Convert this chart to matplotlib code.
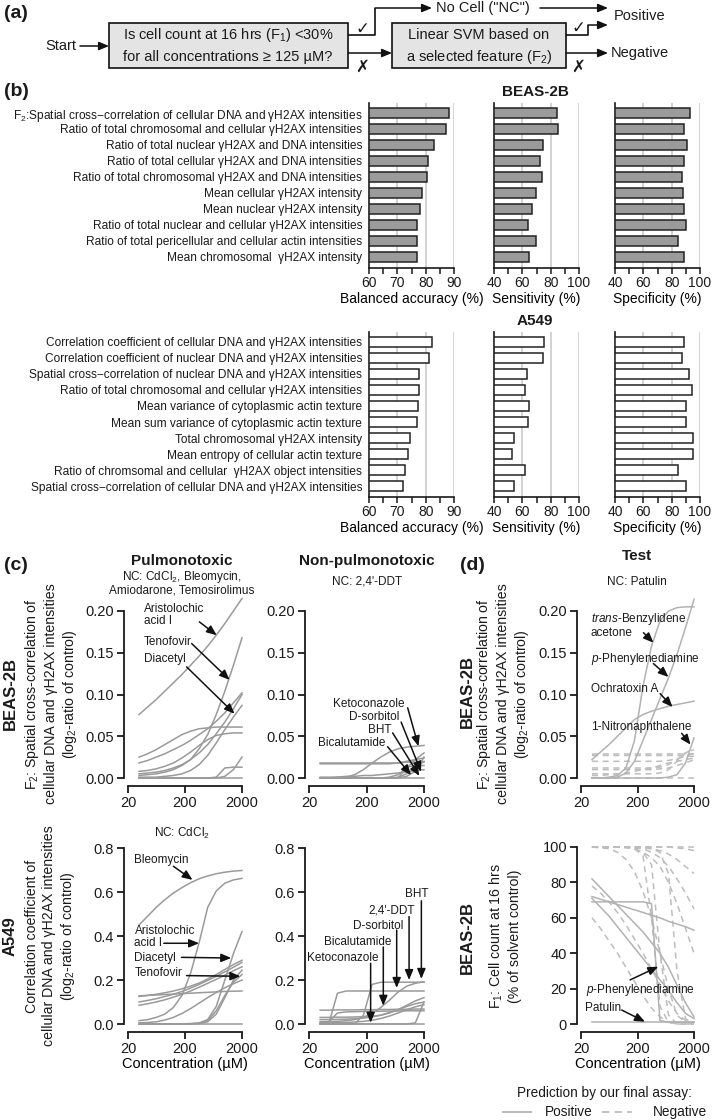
import matplotlib
matplotlib.use('Agg')
import matplotlib.pyplot as plt
from matplotlib.patches import Rectangle
from matplotlib.ticker import NullLocator
import numpy as np

plt.rcParams['font.family'] = ['Liberation Sans', 'DejaVu Sans']
plt.rcParams['mathtext.fontset'] = 'custom'
plt.rcParams['mathtext.rm'] = 'Liberation Sans'
plt.rcParams['mathtext.it'] = 'Liberation Sans:italic'
plt.rcParams['mathtext.bf'] = 'Liberation Sans:bold'
plt.rcParams['text.color'] = '#1a1a1a'
plt.rcParams['axes.edgecolor'] = '#1a1a1a'
plt.rcParams['xtick.color'] = '#1a1a1a'
plt.rcParams['ytick.color'] = '#1a1a1a'

# ---------------- data: panel (b) ----------------
beas_features = [
    'F$_2$:Spatial cross\u2212correlation of cellular DNA and \u03b3H2AX intensities',
    'Ratio of total chromosomal and cellular \u03b3H2AX intensities',
    'Ratio of total nuclear \u03b3H2AX and DNA intensities',
    'Ratio of total cellular \u03b3H2AX and DNA intensities',
    'Ratio of total chromosomal \u03b3H2AX and DNA intensities',
    'Mean cellular \u03b3H2AX intensity',
    'Mean nuclear \u03b3H2AX intensity',
    'Ratio of total nuclear and cellular \u03b3H2AX intensities',
    'Ratio of total pericellular and cellular actin intensities',
    'Mean chromosomal  \u03b3H2AX intensity',
]
beas_bal = [88.2, 87.3, 82.8, 80.7, 80.5, 78.6, 78.0, 76.9, 76.9, 76.9]
beas_sens = [84.5, 85.5, 74.7, 72.3, 73.8, 69.5, 67.0, 64.0, 69.5, 64.8]
beas_spec = [93.0, 88.9, 90.6, 88.9, 87.0, 88.0, 88.9, 90.0, 84.6, 88.9]

a549_features = [
    'Correlation coefficient of cellular DNA and \u03b3H2AX intensities',
    'Correlation coefficient of nuclear DNA and \u03b3H2AX intensities',
    'Spatial cross\u2212correlation of nuclear DNA and \u03b3H2AX intensities',
    'Ratio of total chromosomal and cellular \u03b3H2AX intensities',
    'Mean variance of cytoplasmic actin texture',
    'Mean sum variance of cytoplasmic actin texture',
    'Total chromosomal \u03b3H2AX intensity',
    'Mean entropy of cellular actin texture',
    'Ratio of chromsomal and cellular  \u03b3H2AX object intensities',
    'Spatial cross\u2212correlation of cellular DNA and \u03b3H2AX intensities',
]
a549_bal = [82.2, 81.0, 77.8, 77.8, 77.3, 76.9, 74.4, 73.6, 72.7, 72.0]
a549_sens = [75.4, 74.7, 63.2, 61.6, 64.6, 63.9, 53.8, 52.4, 61.6, 53.8]
a549_spec = [88.9, 87.5, 92.4, 94.1, 90.0, 90.0, 95.3, 95.3, 84.2, 90.0]

# ---------------- data: panels (c) and (d) ----------------
conc = [31.25, 44.2, 62.5, 88.4, 125, 177, 250, 354, 500, 707, 1000, 1414, 2000]

# BEAS-2B, pulmonotoxic, F2
beas_pulmo = [
    [0.076, 0.085, 0.094, 0.104, 0.114, 0.124, 0.135, 0.146, 0.158, 0.171, 0.185, 0.200, 0.215],  # aristolochic acid I
    [0.003, 0.004, 0.005, 0.007, 0.010, 0.015, 0.022, 0.035, 0.052, 0.076, 0.104, 0.135, 0.168],  # tenofovir
    [0.001, 0.001, 0.001, 0.002, 0.003, 0.005, 0.009, 0.016, 0.027, 0.042, 0.058, 0.073, 0.087],  # diacetyl
    [0.025, 0.029, 0.034, 0.040, 0.046, 0.052, 0.056, 0.059, 0.060, 0.061, 0.061, 0.061, 0.061],
    [0.018, 0.021, 0.025, 0.029, 0.034, 0.039, 0.045, 0.052, 0.059, 0.068, 0.078, 0.090, 0.102],
    [0.008, 0.009, 0.011, 0.014, 0.018, 0.024, 0.031, 0.039, 0.046, 0.051, 0.053, 0.054, 0.054],
    [0.005, 0.006, 0.007, 0.009, 0.012, 0.016, 0.022, 0.030, 0.040, 0.053, 0.067, 0.083, 0.100],
    [0.000, 0.000, 0.000, 0.000, 0.000, 0.000, 0.000, 0.000, 0.000, 0.001, 0.012, 0.013, 0.013],
    [0.000, 0.000, 0.000, 0.000, 0.000, 0.000, 0.000, 0.000, 0.000, 0.000, 0.002, 0.010, 0.025],
    [0.000, 0.000, 0.000, 0.000, 0.000, 0.000, 0.000, 0.000, 0.000, 0.000, 0.000, 0.000, 0.000],
]
# BEAS-2B, non-pulmonotoxic, F2
beas_nonpulmo = [
    [0.018, 0.018, 0.018, 0.018, 0.018, 0.018, 0.018, 0.018, 0.018, 0.018, 0.019, 0.019, 0.019],
    [0.017, 0.017, 0.017, 0.017, 0.017, 0.017, 0.017, 0.017, 0.017, 0.018, 0.020, 0.022, 0.024],
    [0.000, 0.000, 0.001, 0.001, 0.004, 0.010, 0.018, 0.025, 0.031, 0.035, 0.037, 0.038, 0.039],
    [0.000, 0.000, 0.000, 0.000, 0.000, 0.000, 0.000, 0.000, 0.001, 0.004, 0.012, 0.022, 0.030],
    [0.000, 0.000, 0.000, 0.000, 0.000, 0.000, 0.000, 0.000, 0.000, 0.001, 0.005, 0.012, 0.020],
    [0.000, 0.000, 0.000, 0.000, 0.000, 0.000, 0.000, 0.000, 0.000, 0.000, 0.013, 0.015, 0.015],
    [0.000, 0.000, 0.000, 0.000, 0.000, 0.000, 0.000, 0.000, 0.000, 0.000, 0.002, 0.008, 0.025],
    [0.001, 0.001, 0.001, 0.002, 0.002, 0.003, 0.003, 0.004, 0.005, 0.006, 0.007, 0.009, 0.010],
    [0.000, 0.000, 0.000, 0.000, 0.000, 0.000, 0.000, 0.000, 0.000, 0.000, 0.000, 0.000, 0.000],
]
# A549, pulmonotoxic, correlation coefficient
a549_pulmo = [
    [0.450, 0.490, 0.530, 0.565, 0.595, 0.620, 0.642, 0.660, 0.673, 0.683, 0.690, 0.695, 0.698],  # bleomycin
    [0.015, 0.020, 0.030, 0.045, 0.075, 0.130, 0.230, 0.370, 0.530, 0.605, 0.640, 0.655, 0.662],  # aristolochic acid I
    [0.000, 0.000, 0.000, 0.000, 0.000, 0.001, 0.002, 0.005, 0.020, 0.080, 0.200, 0.320, 0.420],  # diacetyl
    [0.000, 0.000, 0.000, 0.000, 0.000, 0.001, 0.001, 0.003, 0.015, 0.060, 0.130, 0.190, 0.225],  # tenofovir
    [0.000, 0.000, 0.000, 0.000, 0.000, 0.000, 0.001, 0.002, 0.010, 0.045, 0.120, 0.200, 0.245],
    [0.128, 0.130, 0.132, 0.134, 0.136, 0.138, 0.140, 0.142, 0.144, 0.146, 0.148, 0.149, 0.150],
    [0.125, 0.130, 0.135, 0.142, 0.150, 0.160, 0.172, 0.186, 0.205, 0.225, 0.248, 0.270, 0.290],
    [0.100, 0.107, 0.115, 0.125, 0.135, 0.148, 0.163, 0.180, 0.198, 0.217, 0.237, 0.258, 0.280],
    [0.085, 0.092, 0.100, 0.110, 0.122, 0.135, 0.150, 0.167, 0.185, 0.203, 0.222, 0.242, 0.260],
    [0.005, 0.007, 0.010, 0.018, 0.030, 0.048, 0.070, 0.095, 0.120, 0.143, 0.165, 0.183, 0.200],
    [0.000, 0.000, 0.000, 0.000, 0.000, 0.000, 0.000, 0.000, 0.000, 0.000, 0.000, 0.000, 0.000],
]
# A549, non-pulmonotoxic, correlation coefficient
a549_nonpulmo = [
    [0.000, 0.002, 0.140, 0.150, 0.150, 0.150, 0.150, 0.150, 0.150, 0.150, 0.150, 0.150, 0.150],
    [0.000, 0.000, 0.000, 0.000, 0.001, 0.040, 0.180, 0.190, 0.190, 0.190, 0.190, 0.190, 0.190],
    [0.010, 0.011, 0.012, 0.015, 0.020, 0.030, 0.048, 0.075, 0.108, 0.145, 0.172, 0.185, 0.192],
    [0.063, 0.063, 0.064, 0.064, 0.064, 0.065, 0.065, 0.066, 0.066, 0.067, 0.067, 0.068, 0.068],
    [0.030, 0.030, 0.031, 0.031, 0.032, 0.033, 0.035, 0.040, 0.050, 0.065, 0.085, 0.105, 0.120],
    [0.020, 0.020, 0.021, 0.022, 0.024, 0.027, 0.032, 0.040, 0.052, 0.065, 0.080, 0.092, 0.100],
    [0.005, 0.010, 0.050, 0.055, 0.056, 0.057, 0.058, 0.058, 0.059, 0.059, 0.060, 0.060, 0.060],
    [0.000, 0.000, 0.000, 0.000, 0.000, 0.000, 0.000, 0.000, 0.000, 0.000, 0.000, 0.005, 0.100],
    [0.005, 0.005, 0.006, 0.007, 0.009, 0.012, 0.017, 0.025, 0.036, 0.050, 0.065, 0.078, 0.088],
    [0.000, 0.000, 0.000, 0.000, 0.000, 0.000, 0.000, 0.000, 0.000, 0.000, 0.000, 0.000, 0.000],
]
# Test compounds, BEAS-2B, F2
test_f2_pos = [
    [0.000, 0.000, 0.001, 0.003, 0.012, 0.045, 0.110, 0.158, 0.188, 0.200, 0.204, 0.205, 0.205],  # trans-benzylidene acetone
    [0.000, 0.000, 0.000, 0.001, 0.006, 0.020, 0.045, 0.070, 0.095, 0.120, 0.148, 0.180, 0.214],  # p-phenylenediamine
    [0.022, 0.031, 0.040, 0.050, 0.060, 0.070, 0.076, 0.080, 0.083, 0.086, 0.088, 0.090, 0.092],  # ochratoxin A
    [0.000, 0.000, 0.000, 0.000, 0.000, 0.000, 0.000, 0.000, 0.000, 0.001, 0.004, 0.018, 0.048],  # 1-nitronaphthalene
]
test_f2_neg = [
    [0.029, 0.029, 0.029, 0.029, 0.029, 0.029, 0.029, 0.029, 0.029, 0.029, 0.029, 0.029, 0.029],
    [0.027, 0.027, 0.027, 0.027, 0.027, 0.027, 0.027, 0.027, 0.027, 0.027, 0.027, 0.026, 0.026],
    [0.020, 0.020, 0.020, 0.020, 0.020, 0.020, 0.020, 0.020, 0.020, 0.021, 0.023, 0.026, 0.030],
    [0.012, 0.012, 0.012, 0.012, 0.012, 0.012, 0.012, 0.012, 0.013, 0.016, 0.022, 0.030, 0.035],
    [0.010, 0.010, 0.010, 0.010, 0.010, 0.010, 0.010, 0.010, 0.011, 0.012, 0.015, 0.018, 0.022],
    [0.005, 0.005, 0.005, 0.005, 0.005, 0.005, 0.005, 0.005, 0.006, 0.010, 0.020, 0.030, 0.034],
    [0.003, 0.003, 0.004, 0.005, 0.006, 0.008, 0.010, 0.012, 0.015, 0.018, 0.020, 0.022, 0.024],
    [0.000, 0.000, 0.000, 0.000, 0.000, 0.000, 0.000, 0.000, 0.000, 0.000, 0.000, 0.000, 0.000],
]
# Test compounds, BEAS-2B, F1 (cell count)
test_f1_pos = [
    [82, 77, 72, 67, 62, 57, 52, 46, 40, 32, 22, 12, 4],
    [72, 70.5, 69, 67.5, 66, 64.5, 63, 61.5, 60, 58, 56.5, 55, 53],
    [71, 66, 61, 55, 49, 43, 37, 31, 25, 19, 12, 6, 3],
    [69, 69, 69, 69, 69, 69, 69, 68, 2, 1, 1, 1, 1],  # p-phenylenediamine
    [1, 1, 1, 1, 1, 1, 1, 1, 1, 1, 1, 1, 1],  # patulin
]
test_f1_neg = [
    [100, 100, 100, 100, 100, 100, 100, 100, 100, 100, 100, 100, 100],
    [100, 100, 100, 100, 100, 100, 100, 100, 100, 100, 99.5, 99, 98],
    [100, 100, 100, 100, 100, 100, 99.5, 99, 98, 96, 93, 89, 85],
    [100, 100, 100, 100, 100, 99.5, 99, 97, 94, 89, 82, 74, 65],
    [100, 100, 100, 100, 99.5, 99, 97, 94, 89, 80, 68, 54, 40],
    [100, 100, 100, 100, 100, 100, 100, 99, 97, 85, 30, 3, 0],
    [100, 100, 100, 100, 100, 99, 97, 90, 40, 5, 0, 0, 0],
    [100, 100, 100, 100, 100, 99, 95, 60, 10, 1, 0, 0, 0],
    [100, 99.5, 99, 97, 93, 86, 75, 60, 40, 20, 5, 1, 0],
    [78, 74, 69, 63, 56, 48, 40, 31, 22, 13, 6, 2, 1],
    [60, 54, 47, 40, 32, 24, 16, 9, 4, 1, 0, 0, 0],
]

W, H = 713, 1120
fig = plt.figure(figsize=(W / 100, H / 100), dpi=100)


def rect(x0, y0, x1, y1):
    return [x0 / W, 1 - y1 / H, (x1 - x0) / W, (y1 - y0) / H]


ov = fig.add_axes([0, 0, 1, 1])
ov.set_xlim(0, W)
ov.set_ylim(H, 0)
ov.axis('off')
ov.set_zorder(10)

ARW = dict(arrowstyle='-|>,head_length=0.6,head_width=0.25', color='#111111', lw=1.1,
           shrinkA=0, shrinkB=0)


def flow(pts):
    xs, ys = zip(*pts)
    ov.plot(xs[:-1], ys[:-1], color='#111111', lw=1.2, solid_capstyle='butt')
    ov.annotate('', xy=pts[-1], xytext=pts[-2], arrowprops=ARW)


# ---------------- panel (a) ----------------
FS_A = 10.5
ov.text(4, 14, '(a)', fontsize=14, fontweight='bold', va='center')
ov.add_patch(Rectangle((109, 23), 239, 45, fc='#e4e4e4', ec='#111111', lw=1.2))
ov.add_patch(Rectangle((392, 23), 174, 45, fc='#e4e4e4', ec='#111111', lw=1.2))
ov.text(228, 35, 'Is cell count at 16 hrs (F$_1$) <30%', ha='center', va='center', fontsize=FS_A)
ov.text(228, 57, 'for all concentrations \u2265 125 \u00b5M?', ha='center', va='center', fontsize=FS_A)
ov.text(479, 35, 'Linear SVM based on', ha='center', va='center', fontsize=FS_A)
ov.text(479, 57, 'a selected feature (F$_2$)', ha='center', va='center', fontsize=FS_A)
ov.text(61, 46, 'Start', ha='center', va='center', fontsize=FS_A)
flow([(80, 46), (109, 46)])
flow([(348, 35), (375, 35), (375, 8), (432, 8)])
ov.text(436, 8, 'No Cell ("NC")', ha='left', va='center', fontsize=FS_A)
flow([(540, 8), (608, 8)])
flow([(566, 35), (588, 35), (588, 25), (608, 25)])
ov.text(614, 16, 'Positive', ha='left', va='center', fontsize=FS_A)
flow([(348, 53), (392, 53)])
flow([(566, 53), (608, 53)])
ov.text(611, 53, 'Negative', ha='left', va='center', fontsize=FS_A)
for x, y in [(362, 29), (578, 28)]:
    ov.text(x, y, '\u2713', ha='center', va='center', fontsize=12, family='DejaVu Sans')
for x, y in [(362, 67), (578, 67)]:
    ov.text(x, y, '\u2717', ha='center', va='center', fontsize=12, family='DejaVu Sans')

# ---------------- panel (b) ----------------
ov.text(4, 92, '(b)', fontsize=14, fontweight='bold', va='center')


def bar_panel(x0, x1, y0, y1, vals, lim, major, minor, grid, fc, xlabel, labels=None):
    ax = fig.add_axes(rect(x0, y0, x1, y1))
    ax.patch.set_visible(False)
    pos = np.arange(len(vals))
    ax.barh(pos, np.array(vals) - lim[0], left=lim[0], height=0.6, color=fc,
            edgecolor='#222222', lw=1.1, zorder=3)
    for g in grid:
        ax.axvline(g, color='#d2d2d2', lw=1.4, zorder=0)
    ax.set_xlim(lim)
    ax.set_ylim(len(vals) - 0.3125, -0.625)
    for s in ['top', 'right']:
        ax.spines[s].set_visible(False)
    ax.spines['left'].set_linewidth(1.2)
    ax.spines['bottom'].set_linewidth(1.2)
    ax.set_xticks(major)
    ax.set_xticks(minor, minor=True)
    ax.tick_params(axis='x', which='both', length=4, width=1.1, labelsize=10, pad=1.5)
    ax.set_yticks(pos)
    ax.set_yticklabels(labels if labels else [''] * len(vals), fontsize=8.6)
    ax.tick_params(axis='y', length=0, pad=5)
    ax.set_xlabel(xlabel, fontsize=10, labelpad=1.5)
    return ax


for (top, bot, feats, bal, sens, spec, fc, title, ty) in [
        (103, 268, beas_features, beas_bal, beas_sens, beas_spec, '#9b9b9b', 'BEAS-2B', 92),
        (332, 497, a549_features, a549_bal, a549_sens, a549_spec, 'white', 'A549', 321)]:
    bar_panel(369, 454, top, bot, bal, (60, 90), [60, 70, 80, 90], [65, 75, 85],
              [70, 80, 90], fc, 'Balanced accuracy (%)', feats)
    bar_panel(494, 579, top, bot, sens, (40, 100), [40, 60, 80, 100], [50, 70, 90],
              [60, 80, 100], fc, 'Sensitivity (%)')
    bar_panel(615, 700, top, bot, spec, (40, 100), [40, 60, 80, 100], [50, 70, 90],
              [60, 80, 100], fc, 'Specificity (%)')
    ov.text(535, ty, title, ha='center', va='center', fontsize=11, fontweight='bold')

# ---------------- panels (c) and (d) ----------------
ov.text(4, 565, '(c)', fontsize=14, fontweight='bold', va='center')
ov.text(460, 566, '(d)', fontsize=14, fontweight='bold', va='center')
ov.text(182, 561, 'Pulmonotoxic', ha='center', va='center', fontsize=11, fontweight='bold')
ov.text(367, 561, 'Non-pulmonotoxic', ha='center', va='center', fontsize=11, fontweight='bold')
ov.text(637, 556, 'Test', ha='center', va='center', fontsize=11, fontweight='bold')


def line_panel(x0, x1, y0, y1, ylim, yticks, ylabels, xlabel=False):
    ax = fig.add_axes(rect(x0, y0, x1, y1))
    ax.patch.set_visible(False)
    ax.set_xscale('log')
    ax.set_xlim(20, 2000)
    ax.set_ylim(ylim)
    for s in ['top', 'right']:
        ax.spines[s].set_visible(False)
    ax.spines['left'].set_position(('outward', 3))
    ax.spines['bottom'].set_position(('outward', 6))
    ax.spines['left'].set_linewidth(1.3)
    ax.spines['bottom'].set_linewidth(1.3)
    ax.set_xticks([20, 200, 2000])
    ax.set_xticklabels(['20', '200', '2000'])
    ax.xaxis.set_minor_locator(NullLocator())
    ax.set_yticks(yticks)
    ax.set_yticklabels(ylabels)
    ax.tick_params(which='both', length=5, width=1.3, labelsize=10.5, pad=2)
    if xlabel:
        ax.set_xlabel('Concentration (\u00b5M)', fontsize=10.5, labelpad=1)
    return ax


def draw(ax, curves, color, ls='-'):
    for c in curves:
        ln, = ax.plot(conc, c, color=color, lw=1.1, clip_on=False, zorder=2)
        if ls == '--':
            ln.set_dashes([4, 3])


def note(ax, s, xy, ha='left'):
    ax.text(xy[0], xy[1], s, fontsize=8.5, ha=ha, va='center', linespacing=1.0,
            clip_on=False, zorder=5)


def arrow(ax, start, tip):
    ax.annotate('', xy=tip, xytext=start, arrowprops=ARW, annotation_clip=False, zorder=6)


F2_TICKS = [0, 0.05, 0.1, 0.15, 0.2]
F2_LABELS = ['0.00', '0.05', '0.10', '0.15', '0.20']
CC_TICKS = [0, 0.2, 0.4, 0.6, 0.8]
CC_LABELS = ['0.0', '0.2', '0.4', '0.6', '0.8']
GRAY_C = '#9a9a9a'
GRAY_D = '#b2b2b2'

# top-left: BEAS-2B pulmonotoxic
ax = line_panel(128, 242, 611, 778, (0, 0.2), F2_TICKS, F2_LABELS)
draw(ax, beas_pulmo, GRAY_C)
note(ax, 'Aristolochic\nacid I', (38, 0.195))
arrow(ax, (357, 0.187), (721, 0.171))
note(ax, 'Tenofovir', (38, 0.163))
arrow(ax, (262, 0.161), (1211, 0.1175))
note(ax, 'Diacetyl', (38, 0.142))
arrow(ax, (214, 0.133), (1479, 0.077))
ov.text(182, 583, 'NC: CdCl$_2$, Bleomycin,\nAmiodarone, Temosirolimus', ha='center',
        va='center', fontsize=8.5, linespacing=0.95)

# top-middle: BEAS-2B non-pulmonotoxic
ax = line_panel(309, 424, 611, 778, (0, 0.2), F2_TICKS, F2_LABELS)
draw(ax, beas_nonpulmo, GRAY_C)
note(ax, 'Ketoconazole', (908, 0.089), ha='right')
arrow(ax, (1040, 0.084), (1600, 0.038))
note(ax, 'D-sorbitol', (735, 0.073), ha='right')
arrow(ax, (800, 0.067), (1780, 0.0075))
note(ax, 'BHT', (535, 0.0575), ha='right')
arrow(ax, (570, 0.054), (1660, 0.0025))
note(ax, 'Bicalutamide', (420, 0.042), ha='right')
arrow(ax, (465, 0.0375), (1190, 0.0036))
ov.text(367, 582, "NC: 2,4'-DDT", ha='center', va='center', fontsize=8.5)

# bottom-left: A549 pulmonotoxic
ax = line_panel(128, 242, 848, 1024, (0, 0.8), CC_TICKS, CC_LABELS, xlabel=True)
draw(ax, a549_pulmo, GRAY_C)
note(ax, 'Bleomycin', (26, 0.744))
arrow(ax, (125, 0.717), (271, 0.655))
note(ax, 'Aristolochic\nacid I', (26, 0.394))
arrow(ax, (85, 0.367), (353, 0.367))
note(ax, 'Diacetyl', (26, 0.30))
arrow(ax, (174, 0.303), (1293, 0.30))
note(ax, 'Tenofovir', (26, 0.232))
arrow(ax, (213, 0.22), (1870, 0.217))
ov.text(182, 833, 'NC: CdCl$_2$', ha='center', va='center', fontsize=8.5)

# bottom-middle: A549 non-pulmonotoxic
ax = line_panel(309, 424, 848, 1024, (0, 0.8), CC_TICKS, CC_LABELS, xlabel=True)
draw(ax, a549_nonpulmo, GRAY_C)
note(ax, 'BHT', (2350, 0.59), ha='right')
arrow(ax, (1800, 0.56), (1800, 0.205))
note(ax, "2,4'-DDT", (1400, 0.518), ha='right')
arrow(ax, (1100, 0.488), (1100, 0.2))
note(ax, 'D-sorbitol', (875, 0.445), ha='right')
arrow(ax, (670, 0.427), (670, 0.164))
note(ax, 'Bicalutamide', (548, 0.374), ha='right')
arrow(ax, (392, 0.35), (392, 0.083))
note(ax, 'Ketoconazole', (317, 0.30), ha='right')
arrow(ax, (236, 0.276), (236, 0.006))

# (d) top: test, F2
ax = line_panel(581, 694, 611, 778, (0, 0.2), F2_TICKS, F2_LABELS)
draw(ax, test_f2_neg, '#bdbdbd', '--')
draw(ax, test_f2_pos, GRAY_D)
note(ax, '$\\mathit{trans}$-Benzylidene\nacetone', (30, 0.183))
arrow(ax, (255, 0.174), (383, 0.162))
note(ax, '$\\mathit{p}$-Phenylenediamine', (30, 0.1426))
arrow(ax, (383, 0.137), (707, 0.121))
note(ax, 'Ochratoxin A', (30, 0.106))
arrow(ax, (503, 0.101), (834, 0.085))
note(ax, '1-Nitronaphthalene', (30, 0.0606))
arrow(ax, (1212, 0.0535), (1740, 0.04))
ov.text(637, 582, 'NC: Patulin', ha='center', va='center', fontsize=8.5)

# (d) bottom: test, F1
ax = line_panel(581, 694, 847, 1024, (0, 100), [0, 20, 40, 60, 80, 100],
                ['0', '20', '40', '60', '80', '100'], xlabel=True)
draw(ax, test_f1_neg, '#bdbdbd', '--')
draw(ax, test_f1_pos, GRAY_D)
note(ax, '$\\mathit{p}$-Phenylenediamine', (25, 19.2))
arrow(ax, (148, 24.9), (466, 32.4))
note(ax, 'Patulin', (24, 9))
arrow(ax, (105, 7.9), (271, 1.3))

# y labels
FS_Y = 10.2
F2_YLAB = ('F$_2$: Spatial cross-correlation of\ncellular DNA and \u03b3H2AX intensities\n'
           '(log$_2$-ratio of control)')
ov.text(10, 694, 'BEAS-2B', rotation=90, ha='center', va='center', fontsize=12, fontweight='bold')
ov.text(51, 694, F2_YLAB, rotation=90, ha='center', va='center', fontsize=FS_Y, linespacing=1.25)
ov.text(10, 936, 'A549', rotation=90, ha='center', va='center', fontsize=12, fontweight='bold')
ov.text(51, 936, 'Correlation coefficient of\ncellular DNA and \u03b3H2AX intensities\n'
        '(log$_2$-ratio of control)', rotation=90, ha='center', va='center',
        fontsize=FS_Y, linespacing=1.25)
ov.text(467, 692, 'BEAS-2B', rotation=90, ha='center', va='center', fontsize=12, fontweight='bold')
ov.text(503, 694, F2_YLAB, rotation=90, ha='center', va='center', fontsize=FS_Y, linespacing=1.25)
ov.text(467, 937, 'BEAS-2B', rotation=90, ha='center', va='center', fontsize=12, fontweight='bold')
ov.text(505, 936, 'F$_1$: Cell count at 16 hrs\n(% of solvent control)', rotation=90,
        ha='center', va='center', fontsize=FS_Y, linespacing=1.25)

# legend
ov.text(604, 1093, 'Prediction by our final assay:', ha='center', va='center', fontsize=9.8)
ov.plot([503, 531], [1112, 1112], color=GRAY_D, lw=1.3)
ov.text(545, 1112, 'Positive', ha='left', va='center', fontsize=9.8)
ln, = ov.plot([602, 632], [1112, 1112], color='#bdbdbd', lw=1.3)
ln.set_dashes([4, 3])
ov.text(653, 1112, 'Negative', ha='left', va='center', fontsize=9.8)

fig.savefig('out.png', dpi=100)
